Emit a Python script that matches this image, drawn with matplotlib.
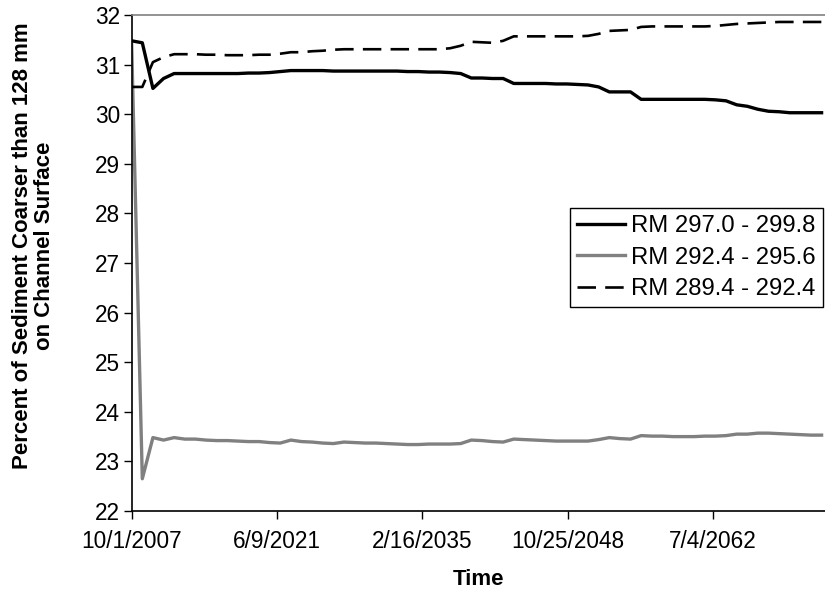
import matplotlib
matplotlib.use("Agg")
import matplotlib.pyplot as plt
import matplotlib.dates as mdates
import datetime as dt

plt.rcParams['font.family'] = ['Liberation Sans', 'DejaVu Sans']

# Annual points, 1 October of each water year 2007..2072
years = list(range(2007, 2073))

rm_297_299 = [31.48, 31.44, 30.52, 30.72, 30.82, 30.82, 30.82, 30.82, 30.82, 30.82,
              30.82, 30.83, 30.83, 30.84, 30.86, 30.88, 30.88, 30.88, 30.88, 30.87,
              30.87, 30.87, 30.87, 30.87, 30.87, 30.87, 30.86, 30.86, 30.85, 30.85,
              30.84, 30.82, 30.73, 30.73, 30.72, 30.72, 30.62, 30.62, 30.62, 30.62,
              30.61, 30.61, 30.60, 30.59, 30.55, 30.45, 30.45, 30.45, 30.30, 30.30,
              30.30, 30.30, 30.30, 30.30, 30.30, 30.29, 30.27, 30.19, 30.16, 30.10,
              30.06, 30.05, 30.03, 30.03, 30.03, 30.03]

rm_292_295 = [31.40, 22.65, 23.48, 23.43, 23.48, 23.45, 23.45, 23.43, 23.42, 23.42,
              23.41, 23.40, 23.40, 23.38, 23.37, 23.43, 23.40, 23.39, 23.37, 23.36,
              23.39, 23.38, 23.37, 23.37, 23.36, 23.35, 23.34, 23.34, 23.35, 23.35,
              23.35, 23.36, 23.43, 23.42, 23.40, 23.39, 23.45, 23.44, 23.43, 23.42,
              23.41, 23.41, 23.41, 23.41, 23.44, 23.48, 23.46, 23.45, 23.52, 23.51,
              23.51, 23.50, 23.50, 23.50, 23.51, 23.51, 23.52, 23.55, 23.55, 23.57,
              23.57, 23.56, 23.55, 23.54, 23.53, 23.53]

rm_289_292 = [30.55, 30.55, 31.05, 31.15, 31.21, 31.21, 31.21, 31.20, 31.20, 31.19,
              31.19, 31.19, 31.20, 31.20, 31.22, 31.25, 31.25, 31.27, 31.28, 31.30,
              31.31, 31.31, 31.31, 31.31, 31.31, 31.31, 31.31, 31.31, 31.31, 31.31,
              31.33, 31.38, 31.46, 31.45, 31.44, 31.48, 31.57, 31.57, 31.57, 31.57,
              31.57, 31.57, 31.57, 31.58, 31.62, 31.68, 31.69, 31.70, 31.76, 31.77,
              31.77, 31.77, 31.77, 31.77, 31.77, 31.78, 31.80, 31.82, 31.83, 31.84,
              31.85, 31.86, 31.86, 31.86, 31.86, 31.86]

series_labels = ["RM 297.0 - 299.8", "RM 292.4 - 295.6", "RM 289.4 - 292.4"]
tick_dates = [dt.date(2007, 10, 1), dt.date(2021, 6, 9), dt.date(2035, 2, 16),
              dt.date(2048, 10, 25), dt.date(2062, 7, 4)]
tick_labels = ["10/1/2007", "6/9/2021", "2/16/2035", "10/25/2048", "7/4/2062"]
y_ticks = list(range(22, 33))

dates = [dt.date(y, 10, 1) for y in years]

fig = plt.figure(figsize=(8.25, 5.96), dpi=100)
ax = fig.add_axes([0.1596, 0.1426, 0.8404, 0.8322])

ax.plot(dates, rm_297_299, color='black', lw=2.4, label=series_labels[0], zorder=3)
ax.plot(dates, rm_292_295, color='#808080', lw=2.4, label=series_labels[1], zorder=2)
ax.plot(dates, rm_289_292, color='black', lw=1.9, linestyle=(0, (7, 3.5)),
        label=series_labels[2], zorder=3)

ax.set_ylim(22, 32)
ax.set_yticks(y_ticks)
ax.set_xlim(mdates.date2num(dt.date(2007, 10, 1)), mdates.date2num(dt.date(2007, 10, 1)) + 23860)
ax.set_xticks([mdates.date2num(d) for d in tick_dates])
ax.set_xticklabels(tick_labels)

ax.tick_params(axis='both', direction='out', length=5.5, width=1, labelsize=16.3, color='black')
ax.tick_params(axis='x', pad=8)
ax.tick_params(axis='y', pad=3)

for s in ['left', 'bottom']:
    ax.spines[s].set_color('black')
    ax.spines[s].set_linewidth(1.2)
ax.spines['top'].set_color('#808080')
ax.spines['top'].set_linewidth(1.2)
ax.spines['right'].set_visible(False)

ax.set_xlabel("Time", fontsize=16, fontweight='bold', labelpad=12)
ax.set_ylabel("Percent of Sediment Coarser than 128 mm\non Channel Surface",
              fontsize=16, fontweight='bold', linespacing=1.1)
ax.yaxis.set_label_coords(-0.11, 0.535)

leg = ax.legend(loc='upper right', bbox_to_anchor=(0.997, 0.611), fontsize=17.2,
                frameon=True, fancybox=False, edgecolor='black', framealpha=1,
                handlelength=2.0, handletextpad=0.25, borderpad=0.3,
                labelspacing=0.4, borderaxespad=0)
leg.get_frame().set_linewidth(1.0)

fig.savefig("out.png", dpi=100)
